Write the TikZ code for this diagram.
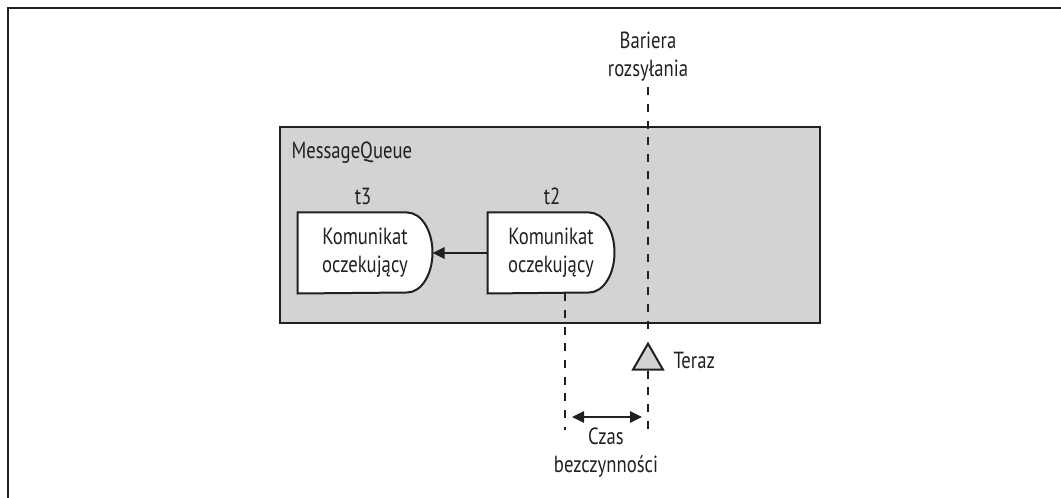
\documentclass[tikz,border=0pt]{standalone}
\usepackage{fontspec}
\setmainfont[FakeStretch=0.8]{PT Sans}
\usetikzlibrary{arrows.meta,shapes.geometric,backgrounds}

\definecolor{inkc}{RGB}{35,31,32}
\definecolor{queuegray}{RGB}{209,211,212}

\tikzset{every picture/.style={line width=0.75pt}}
\tikzset{
  frameline/.style={draw=inkc,line width=2pt},
  queuebox/.style={draw=inkc,fill=queuegray,line width=1.5pt},
  waiting/.style={inner sep=0pt,align=center,text=inkc,font=\fontsize{17.5}{21}\selectfont,minimum height=60pt},
  msgline/.style={draw=inkc,fill=white,line width=1.5pt},
  guide/.style={draw=inkc,line width=1.4pt,dash pattern=on 6pt off 6.5pt},
  txt/.style={text=inkc,align=center,font=\fontsize{17.5}{21}\selectfont,inner sep=0pt},
  nowmark/.style={regular polygon,regular polygon sides=3,draw=inkc,fill=queuegray,line width=1.5pt,minimum size=26pt,inner sep=0pt},
  headarrow/.style={draw=inkc,line width=1.5pt,-{Triangle[length=9pt,width=8.5pt]}},
  bothways/.style={draw=inkc,line width=1.5pt,{Triangle[length=9pt,width=8.5pt]}-{Triangle[length=9pt,width=8.5pt]}}
}

\begin{document}
\begin{tikzpicture}[x=0.75pt,y=0.75pt,yscale=-1,xscale=1]
		\useasboundingbox (0,0) rectangle (1061,498);

		%Frame
		\draw[frameline] (8,498) -- (8,8) -- (1061,8);
		%Shape: Rectangle (MessageQueue)
		\begin{scope}[on background layer]
		\draw[queuebox] (280,127) rectangle (820,323);
		\end{scope}

		% Text Node
		\node[txt,anchor=west] (mq) at (291,153) {MessageQueue};
		% Text Node
		\node[txt] (t3) at (363,196) {t3};
		% Text Node
		\node[txt] (t2) at (552,196) {t2};

		%Messages
		\node[waiting,minimum width=100.5pt] (m3) at (365,253) {Komunikat\\oczekujący};
		\node[waiting,minimum width=94.5pt] (m2) at (551,253) {Komunikat\\oczekujący};
		\begin{scope}[on background layer]
		\foreach \m in {m3,m2}
			\draw[msgline] (\m.north west) -- ([xshift=-19pt]\m.north east) arc[start angle=-90,end angle=90,x radius=19pt,y radius=30pt] -- (\m.south west) -- cycle;
		\end{scope}
		%Straight Lines
		\draw[headarrow] (m2.west) -- (m3.east);

		% Text Node
		\node[txt] (bar) at (648,57) {Bariera\\rozsyłania};
		%Shape: Triangle
		\node[nowmark] (now) at (648,361) {};
		% Text Node
		\node[txt,anchor=west] (teraz) at (673,360) {Teraz};

		\coordinate (barend) at (648,430);
		\coordinate (idleend) at (565,430);
		%Dashed Lines
		\draw[guide,shorten <=4pt,shorten >=4pt] (bar.south) -- (now.north);
		\draw[guide] (now.south) -- (barend);
		\draw[guide] (m2.south -| idleend) -- (idleend);

		%Idle time
		\coordinate (gapL) at (572,417);
		\coordinate (gapR) at (642,417);
		\draw[bothways] (gapL) -- (gapR);
		% Text Node
		\node[txt] (idle) at (606,453) {Czas\\bezczynności};

\end{tikzpicture}
\end{document}
